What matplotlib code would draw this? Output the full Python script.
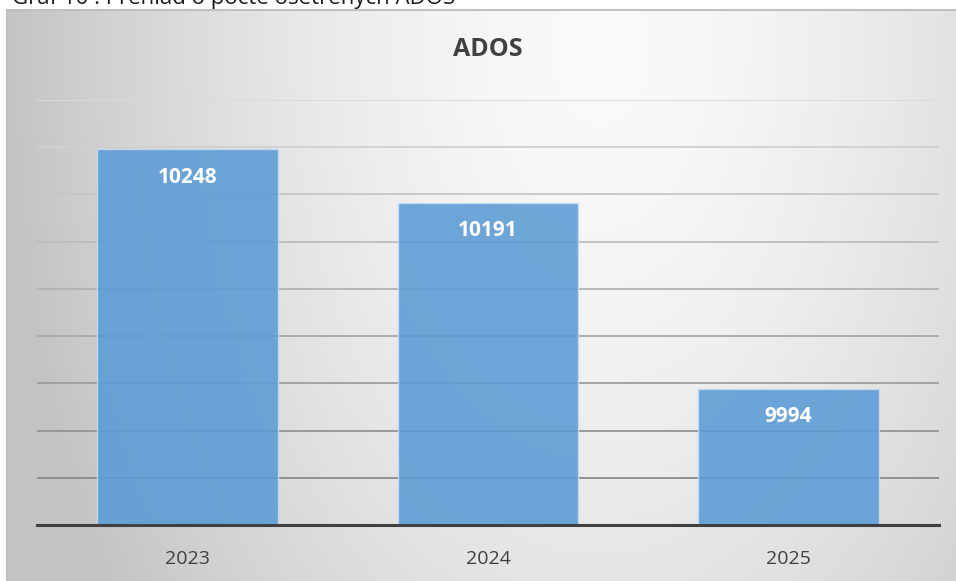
import numpy as np
import matplotlib
matplotlib.use("Agg")
import matplotlib.pyplot as plt
from matplotlib.colors import to_hex

# data
years = ["2023", "2024", "2025"]
counts = [10248, 10191, 9994]
y_min, y_max, y_step = 9850, 10300, 50
title = "ADOS"
caption = "Graf 10 : Prehľad o počte ošetrených ADOS"

plt.rcParams['font.family'] = ['Open Sans', 'DejaVu Sans']

W, H = 956, 581
fig = plt.figure(figsize=(W / 100, H / 100), dpi=100)
fig.patch.set_facecolor('white')

# chart area with a soft radial gradient
bg = fig.add_axes([7 / W, 0, (W - 7) / W, (H - 10) / H])
xs = np.arange(7, W)
ys = np.arange(10, H)
gx, gy = np.meshgrid(xs, ys)
d = np.sqrt((gx - 600) ** 2 + ((gy - 40) * 0.6) ** 2)
v = np.clip(250 - 54 * (d / 590) ** 1.6, 195, 250) / 255.0
img = np.dstack([v, v, v])
bg.imshow(img, aspect='auto', extent=(0, 1, 0, 1), origin='upper')
bg.set_xlim(0, 1)
bg.set_ylim(0, 1)
bg.set_xticks([])
bg.set_yticks([])
for side in ['right', 'bottom']:
    bg.spines[side].set_visible(False)
for side in ['top', 'left']:
    bg.spines[side].set_color('#c0c0c0')
    bg.spines[side].set_linewidth(1.5)

# plot area
left, right, top, bottom = 37, 939, 100, 525
ax = fig.add_axes([left / W, (H - bottom) / H, (right - left) / W, (bottom - top) / H])
ax.patch.set_alpha(0)

grid_vals = np.arange(y_min + y_step, y_max + 1, y_step)
for gv in grid_vals:
    t = (gv - y_min) / (y_max - y_min)
    c = (128 + (218 - 128) * t) / 255.0
    ax.axhline(gv, color=to_hex((c, c, c)), lw=1.3, zorder=1)

x = np.arange(len(years))
bars = ax.bar(x, counts, width=0.6, bottom=0, color='#5b9bd5', alpha=0.88,
              edgecolor='#c5dcf1', linewidth=1.0, zorder=2)

for xi, val in zip(x, counts):
    ax.annotate(str(val), (xi, val), xytext=(0, -28), textcoords='offset pixels',
                ha='center', va='center', color='white', fontsize=15,
                fontweight='bold', zorder=4)

ax.set_xlim(-0.5, len(years) - 0.5)
ax.set_ylim(y_min, y_max)
ax.set_yticks([])
ax.set_xticks(x)
ax.set_xticklabels(years, fontsize=14, color='#404040')
ax.tick_params(axis='x', length=0, pad=18)
for side in ['top', 'right', 'left']:
    ax.spines[side].set_visible(False)
ax.spines['bottom'].set_color('#404040')
ax.spines['bottom'].set_linewidth(2.2)
ax.spines['bottom'].set_zorder(5)

fig.text(488 / W, 1 - 50 / H, title, ha='center', va='center',
         fontsize=18, fontweight='bold', color='#404040')
fig.text(12 / W, 1 - 4 / H, caption, ha='left', va='baseline',
         fontsize=16, color='#1a1a1a')

fig.savefig('out.png', dpi=100)
